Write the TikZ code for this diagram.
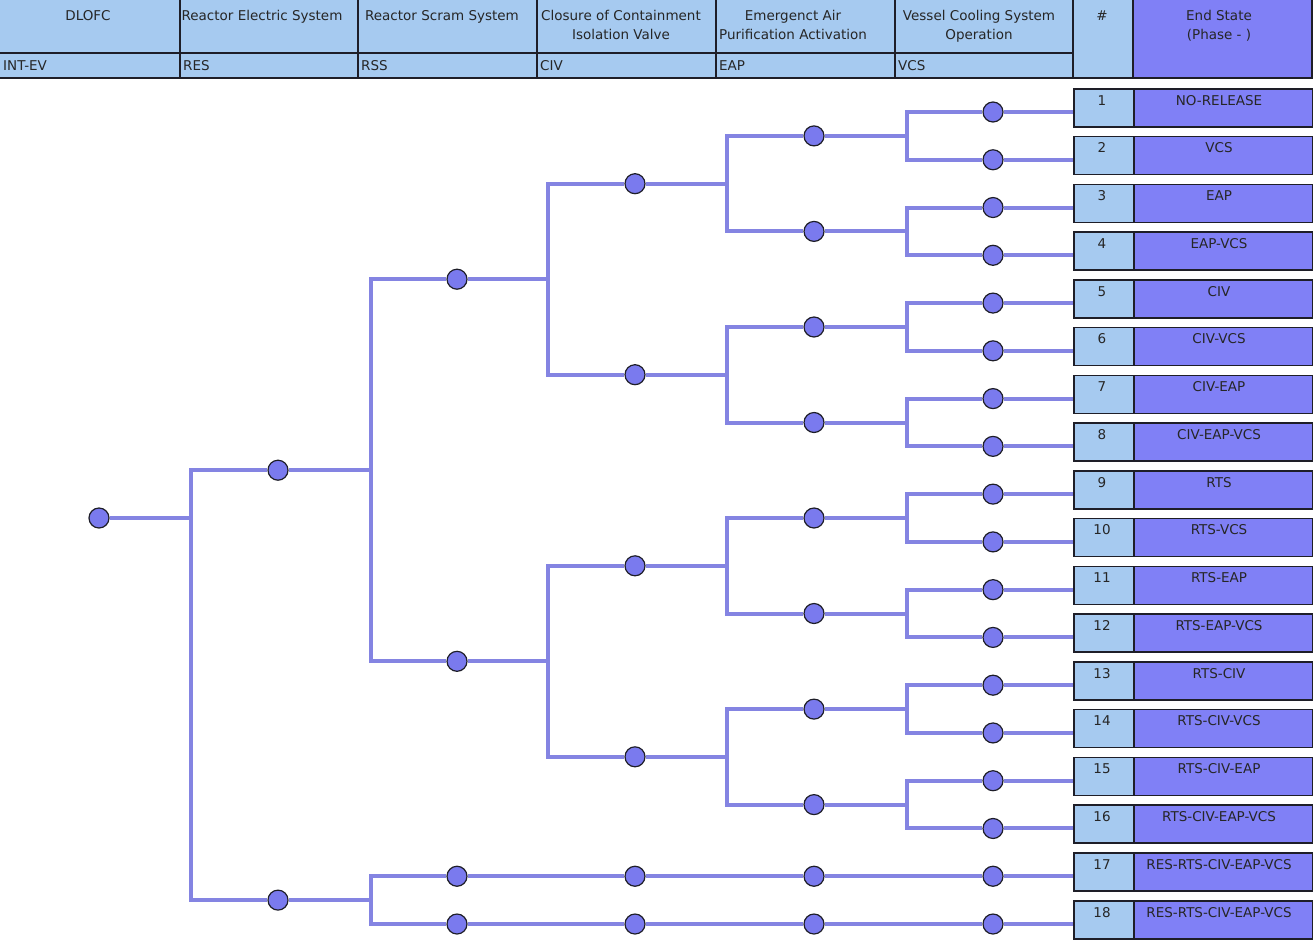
\documentclass[tikz,border=0pt]{standalone}
\usepackage{fontspec}
\setmainfont{DejaVu Sans}
\definecolor{hdr}{RGB}{166,202,240}
\definecolor{esc}{RGB}{128,128,246}
\definecolor{lnc}{RGB}{132,132,226}
\definecolor{cfc}{RGB}{122,122,238}
\definecolor{brd}{RGB}{30,30,40}
\begin{document}
\begin{tikzpicture}[x=1pt,y=-1pt,
  ev/.style={circle, draw=brd, line width=1.2pt, fill=cfc, minimum size=20pt, inner sep=0pt},
  edge/.style={draw=lnc, line width=4pt},
  txt/.style={font=\fontsize{13.5}{15}\selectfont, inner sep=0pt, text=black!85},
  hline/.style={draw=brd, line width=1.5pt},
  numbox/.style={draw=brd, line width=1.5pt, fill=hdr, minimum width=60pt, minimum height=38pt, inner sep=0pt},
  esbox/.style={draw=brd, line width=1.5pt, fill=esc, minimum width=179pt, minimum height=38pt, inner sep=0pt}]
\useasboundingbox (0,0) rectangle (1313,940);
% header
\fill[hdr] (0,0) rectangle (1133,78);
\fill[esc] (1133,0) rectangle (1313,78);
\draw[hline] (0,53) -- (1073,53);
\draw[hline] (0,78) -- (1313,78);
\foreach \x in {180,358,537,716,895,1073,1133} { \draw[hline] (\x,0) -- (\x,78); }
\draw[hline] (1312,0) -- (1312,78);
\node[txt, anchor=base] (h0) at (88,20) {DLOFC};
\node[txt, anchor=base] (h1) at (262,20) {Reactor Electric System};
\node[txt, anchor=base] (h2) at (442,20) {Reactor Scram System};
\node[txt, anchor=base] (h3a) at (621,20) {Closure of Containment};
\node[txt, anchor=base] (h3b) at (621,39) {Isolation Valve};
\node[txt, anchor=base] (h4a) at (793,20) {Emergenct Air};
\node[txt, anchor=base] (h4b) at (793,39) {Purification Activation};
\node[txt, anchor=base] (h5a) at (979,20) {Vessel Cooling System};
\node[txt, anchor=base] (h5b) at (979,39) {Operation};
\node[txt, anchor=base] (h6) at (1102,20) {\#};
\node[txt, anchor=base] (h7a) at (1219,20) {End State};
\node[txt, anchor=base] (h7b) at (1219,39) {(Phase - )};
\node[txt, anchor=base west] (s0) at (3,70) {INT-EV};
\node[txt, anchor=base west] (s1) at (183,70) {RES};
\node[txt, anchor=base west] (s2) at (361,70) {RSS};
\node[txt, anchor=base west] (s3) at (540,70) {CIV};
\node[txt, anchor=base west] (s4) at (719,70) {EAP};
\node[txt, anchor=base west] (s5) at (898,70) {VCS};
% end-state boxes and leaf circles
\foreach \i/\s in {1/NO-RELEASE,2/VCS,3/EAP,4/EAP-VCS,5/CIV,6/CIV-VCS,7/CIV-EAP,8/CIV-EAP-VCS,9/RTS,10/RTS-VCS,11/RTS-EAP,12/RTS-EAP-VCS,13/RTS-CIV,14/RTS-CIV-VCS,15/RTS-CIV-EAP,16/RTS-CIV-EAP-VCS,17/RES-RTS-CIV-EAP-VCS,18/RES-RTS-CIV-EAP-VCS} {
  \pgfmathsetmacro\T{88+47.765*(\i-1)}
  \pgfmathsetmacro\L{112+47.765*(\i-1)}
  \node[numbox, anchor=north west] (b\i) at (1073,\T) {};
  \node[esbox, anchor=north west] (e\i) at (1133,\T) {};
  \node[txt, anchor=base] (bn\i) at (1102,\T+17) {\i};
  \node[txt, anchor=base] (en\i) at (1219,\T+17) {\s};
  \node[ev] (v\i) at (993,\L) {};
}
% level 4 (EAP)
\node[ev] (d1) at (814,135.9) {};
\node[ev] (d2) at (814,231.4) {};
\node[ev] (d3) at (814,327.0) {};
\node[ev] (d4) at (814,422.5) {};
\node[ev] (d5) at (814,518.0) {};
\node[ev] (d6) at (814,613.5) {};
\node[ev] (d7) at (814,709.1) {};
\node[ev] (d8) at (814,804.6) {};
\node[ev] (d9) at (v17 -| 814,0) {};
\node[ev] (d10) at (v18 -| 814,0) {};
% level 3 (CIV)
\node[ev] (c1) at (635,183.7) {};
\node[ev] (c2) at (635,374.7) {};
\node[ev] (c3) at (635,565.8) {};
\node[ev] (c4) at (635,756.8) {};
\node[ev] (c5) at (v17 -| 635,0) {};
\node[ev] (c6) at (v18 -| 635,0) {};
% level 2 (RSS)
\node[ev] (r1) at (457,279.2) {};
\node[ev] (r2) at (457,661.3) {};
\node[ev] (r3) at (v17 -| 457,0) {};
\node[ev] (r4) at (v18 -| 457,0) {};
% level 1 (RES)
\node[ev] (a1) at (278,470.2) {};
\node[ev] (a2) at (278,900.1) {};
% root
\node[ev] (n0) at (99,518.0) {};
% junction points
\coordinate (j0) at (191,518.0);
\coordinate (j1) at (371,470.2);
\coordinate (j2) at (371,900.1);
\coordinate (k1) at (548,279.2);
\coordinate (k2) at (548,661.3);
\coordinate (m1) at (727,183.7);
\coordinate (m2) at (727,374.7);
\coordinate (m3) at (727,565.8);
\coordinate (m4) at (727,756.8);
\coordinate (q1) at (907,135.9);
\coordinate (q2) at (907,231.4);
\coordinate (q3) at (907,327.0);
\coordinate (q4) at (907,422.5);
\coordinate (q5) at (907,518.0);
\coordinate (q6) at (907,613.5);
\coordinate (q7) at (907,709.1);
\coordinate (q8) at (907,804.6);
% connectors
\draw[edge] (n0) -- (j0);
\draw[edge] (a1) -| (j0) |- (a2);
\draw[edge] (a1) -- (j1);
\draw[edge] (r1) -| (j1) |- (r2);
\draw[edge] (a2) -- (j2);
\draw[edge] (r3) -| (j2) |- (r4);
\draw[edge] (r1) -- (k1);
\draw[edge] (c1) -| (k1) |- (c2);
\draw[edge] (r2) -- (k2);
\draw[edge] (c3) -| (k2) |- (c4);
\draw[edge] (r3) -- (c5);
\draw[edge] (r4) -- (c6);
\draw[edge] (c5) -- (d9);
\draw[edge] (c6) -- (d10);
\draw[edge] (d9) -- (v17);
\draw[edge] (d10) -- (v18);
\foreach \c/\m/\u/\w in {c1/m1/d1/d2, c2/m2/d3/d4, c3/m3/d5/d6, c4/m4/d7/d8} {
  \draw[edge] (\c) -- (\m);
  \draw[edge] (\u) -| (\m) |- (\w);
}
\foreach \d/\q/\u/\w in {d1/q1/v1/v2, d2/q2/v3/v4, d3/q3/v5/v6, d4/q4/v7/v8, d5/q5/v9/v10, d6/q6/v11/v12, d7/q7/v13/v14, d8/q8/v15/v16} {
  \draw[edge] (\d) -- (\q);
  \draw[edge] (\u) -| (\q) |- (\w);
}
\foreach \i in {1,...,18} { \draw[edge] (v\i) -- (b\i.west |- v\i); }
\end{tikzpicture}
\end{document}
